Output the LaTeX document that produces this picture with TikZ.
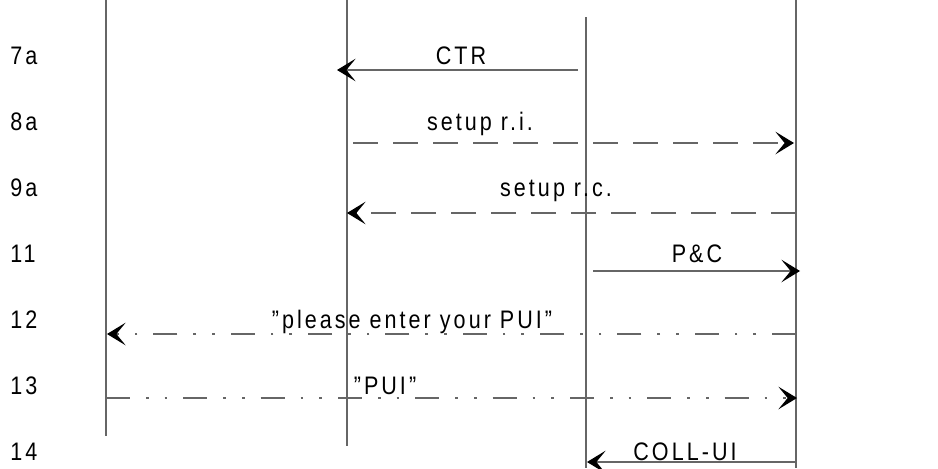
\documentclass[tikz,border=0pt]{standalone}
\usepackage{fontspec}
\setmainfont{Liberation Sans}[FakeStretch=0.85,LetterSpace=12]
\usetikzlibrary{arrows.meta, positioning}

\begin{document}
\begin{tikzpicture}[x=0.75pt, y=-0.75pt,
    lifeline/.style={draw=black!60, line width=1pt},
    msg/.style={draw=black!60, line width=1pt,
                -{Stealth[black, length=14pt, width=17pt, inset=7pt]}},
    dashmsg/.style={msg, dash pattern=on 18.75pt off 11.25pt},
    dotmsg/.style={msg, dash pattern=on 18pt off 12pt on 2pt off 12pt on 2pt off 12pt},
    rowlabel/.style={anchor=base west, inner sep=0pt, font=\fontsize{19}{22}\selectfont},
    msglabel/.style={anchor=base, inner sep=0pt, font=\fontsize{19}{22}\selectfont}
]
    \useasboundingbox (0,0) rectangle (938,468);

    % Lifelines
    \coordinate (l1top) at (106,0);   \coordinate (l1bot) at (106,436);
    \coordinate (l2top) at (347,0);   \coordinate (l2bot) at (347,446);
    \coordinate (l3top) at (586,17);  \coordinate (l3bot) at (586,468);
    \coordinate (l4top) at (796,0);   \coordinate (l4bot) at (796,468);
    \draw[lifeline] (l1top) -- (l1bot);
    \draw[lifeline] (l2top) -- (l2bot);
    \draw[lifeline] (l3top) -- (l3bot);
    \draw[lifeline] (l4top) -- (l4bot);

    % Step numbers
    \node[rowlabel] (r7a) at (10,64)  {7a};
    \node[rowlabel] (r8a) at (10,130) {8a};
    \node[rowlabel] (r9a) at (10,196) {9a};
    \node[rowlabel] (r11) at (10,262) {11};
    \node[rowlabel] (r12) at (10,328) {12};
    \node[rowlabel] (r13) at (10,394) {13};
    \node[rowlabel] (r14) at (10,460) {14};

    % Message ends
    \coordinate (ctr-s) at (578,70);   \coordinate (ctr-e) at (337,70);
    \coordinate (sri-s) at (353,143);  \coordinate (sri-e) at (794,143);
    \coordinate (src-s) at (796,213);  \coordinate (src-e) at (347,213);
    \coordinate (pc-s)  at (593,271);  \coordinate (pc-e)  at (800,271);
    \coordinate (ask-s) at (796,334);  \coordinate (ask-e) at (107,334);
    \coordinate (pui-s) at (106,398);  \coordinate (pui-e) at (797,398);
    \coordinate (col-s) at (796,462);  \coordinate (col-e) at (587,462);

    % Messages
    \draw[msg] (ctr-s) -- (ctr-e);
    \draw[dashmsg] (sri-s) -- (sri-e);
    \draw[dashmsg] (src-s) -- (src-e);
    \draw[msg] (pc-s) -- (pc-e);
    \draw[dotmsg] (ask-s) -- (ask-e);
    \draw[dotmsg] (pui-s) -- (pui-e);
    \draw[msg] (col-s) -- (col-e);

    % Message texts
    \node[msglabel] (ctr) at (461,64)  {CTR};
    \node[msglabel] (sri) at (480,130) {setup r.i.};
    \node[msglabel] (src) at (556,196) {setup r.c.};
    \node[msglabel] (pc)  at (697,262) {P\&C};
    \node[msglabel] (ask) at (412,328) {"please enter your PUI"};
    \node[msglabel] (pui) at (385,394) {"PUI"};
    \node[msglabel] (col) at (685,460) {COLL-UI};
\end{tikzpicture}
\end{document}
